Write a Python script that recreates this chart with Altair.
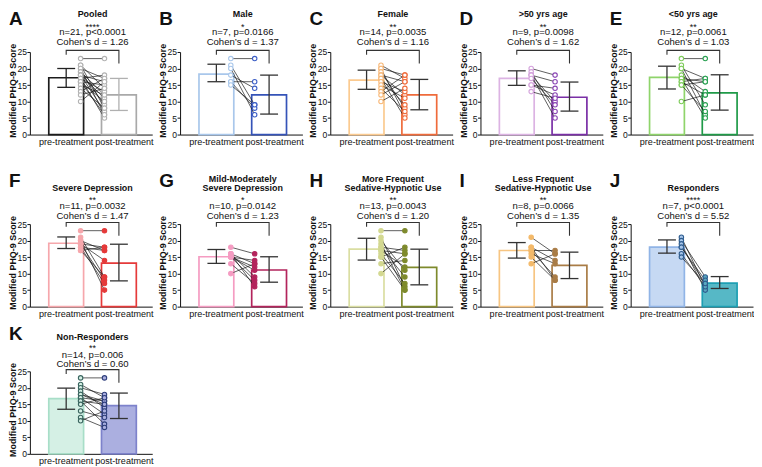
import altair as alt
import pandas as pd

FONT = "Liberation Sans"

# ---------------- data ----------------
letters = ["A", "B", "C", "D", "E", "F", "G", "H", "I", "J", "K"]
titles = [["Pooled"], ["Male"], ["Female"], [">50 yrs age"], ["<50 yrs age"],
          ["Severe Depression"], ["Mild-Moderately", "Severe Depression"],
          ["More Frequent", "Sedative-Hypnotic Use"],
          ["Less Frequent", "Sedative-Hypnotic Use"],
          ["Responders"], ["Non-Responders"]]
stars = ["****", "*", "**", "**", "**", "**", "*", "**", "**", "****", "**"]
stat_lines = ["n=21, p<0.0001", "n=7, p=0.0166", "n=14, p=0.0035", "n=9, p=0.0098",
              "n=12, p=0.0061", "n=11, p=0.0032", "n=10, p=0.0142", "n=13, p=0.0043",
              "n=8, p=0.0066", "n=7, p<0.0001", "n=14, p=0.006"]
cohen = ["Cohen’s d = 1.26", "Cohen’s d = 1.37", "Cohen’s d = 1.16", "Cohen’s d = 1.62",
         "Cohen’s d = 1.03", "Cohen’s d = 1.47", "Cohen’s d = 1.23", "Cohen’s d = 1.20",
         "Cohen’s d = 1.35", "Cohen’s d = 5.52", "Cohen’s d = 0.60"]
categories = ["pre-treatment", "post-treatment"]

pre_mean = [17.2, 18.3, 16.5, 17.0, 17.3, 19.2, 15.1, 17.4, 17.0, 18.0, 16.7]
pre_lo   = [14.3, 16.0, 13.7, 14.9, 13.8, 17.6, 13.1, 14.1, 14.7, 16.2, 13.5]
pre_hi   = [20.0, 21.3, 19.5, 19.3, 20.7, 21.1, 17.3, 20.7, 19.4, 20.2, 19.9]
post_mean = [12.0, 12.0, 12.0, 11.3, 12.6, 13.2, 11.1, 11.9, 12.5, 7.1, 14.6]
post_lo   = [7.3, 6.2, 7.5, 7.1, 7.4, 7.8, 7.4, 6.6, 8.5, 5.5, 10.7]
post_hi   = [17.0, 18.0, 16.7, 15.9, 18.1, 18.9, 15.1, 17.4, 16.5, 9.1, 18.4]

pre_scores = [
    [23, 21, 21, 20, 20, 19, 19, 18, 18, 18, 17, 17, 17, 16, 16, 16, 15, 14, 13, 12, 10],
    [23, 21, 20, 18, 16, 16, 15],
    [21, 20, 20, 19, 18, 18, 17, 17, 16, 15, 14, 13, 12, 10],
    [20, 19, 18, 18, 18, 17, 15, 15, 13],
    [23, 21, 20, 20, 18, 17, 17, 16, 16, 15, 15, 10],
    [23, 21, 20, 20, 19, 19, 19, 18, 18, 17, 17],
    [18, 16, 16, 16, 15, 15, 15, 15, 13, 10],
    [23, 21, 20, 19, 18, 18, 17, 17, 16, 15, 15, 13, 10],
    [21, 18, 18, 17, 17, 16, 15, 13],
    [21, 20, 19, 18, 18, 16, 15],
    [23, 21, 20, 19, 18, 18, 17, 17, 16, 16, 15, 13, 11, 10],
]
post_scores = [
    [23, 14, 8, 17, 6, 12, 9, 16, 7, 11, 18, 5, 13, 15, 6, 10, 12, 8, 17, 14, 16],
    [23, 9, 6, 14, 16, 8, 9],
    [17, 6, 18, 8, 12, 16, 9, 5, 13, 11, 7, 18, 16, 14],
    [18, 7, 16, 10, 5, 9, 14, 12, 11],
    [23, 9, 17, 6, 13, 16, 5, 12, 17, 7, 16, 12],
    [23, 9, 17, 5, 18, 14, 8, 7, 17, 18, 9],
    [16, 6, 13, 9, 12, 8, 14, 11, 7, 13],
    [23, 6, 11, 5, 17, 9, 16, 12, 7, 18, 5, 14, 16],
    [16, 8, 14, 9, 17, 13, 8, 16],
    [6, 9, 5, 8, 7, 6, 7],
    [23, 17, 18, 14, 16, 15, 12, 16, 9, 15, 17, 11, 8, 13],
]

# ---------------- styles ----------------
styles = [
    dict(fill=["white", "white"], stroke=["#1c1c1c", "#a9a9a9"], pfill=["white", "white"],
         pstroke=["#b3b3b3", "#b3b3b3"], err=["#222222", "#b0b0b0"]),
    dict(fill=["white", "white"], stroke=["#a9c7eb", "#3553b8"], pfill=["white", "white"],
         pstroke=["#a9c7eb", "#3d5fc6"], err=["#333333", "#333333"]),
    dict(fill=["white", "white"], stroke=["#fbca90", "#ef6b3b"], pfill=["white", "white"],
         pstroke=["#f8b878", "#ef6b3b"], err=["#333333", "#333333"]),
    dict(fill=["white", "white"], stroke=["#dcb3e3", "#7a2fa6"], pfill=["white", "white"],
         pstroke=["#d4a3dc", "#8a45b4"], err=["#333333", "#333333"]),
    dict(fill=["white", "white"], stroke=["#8fd46b", "#1f9a48"], pfill=["white", "white"],
         pstroke=["#7fcc5c", "#2aa052"], err=["#333333", "#333333"]),
    dict(fill=["white", "white"], stroke=["#f6a7ac", "#e53a3a"], pfill=["#f6a7ac", "#e53a3a"],
         pstroke=["#f6a7ac", "#e53a3a"], err=["#333333", "#333333"]),
    dict(fill=["white", "white"], stroke=["#f59cc2", "#b3245c"], pfill=["#f59cc2", "#b3245c"],
         pstroke=["#f59cc2", "#b3245c"], err=["#333333", "#333333"]),
    dict(fill=["white", "white"], stroke=["#dadea2", "#7e8a2c"], pfill=["#d3d890", "#7e8a2c"],
         pstroke=["#d3d890", "#7e8a2c"], err=["#333333", "#333333"]),
    dict(fill=["white", "white"], stroke=["#f7c582", "#a97c46"], pfill=["#f3b96a", "#a97c46"],
         pstroke=["#f3b96a", "#a97c46"], err=["#333333", "#333333"]),
    dict(fill=["#c6d9f3", "#56b8c6"], stroke=["#90b4e6", "#1e9fb3"], pfill=["#a9c7eb", "#5aa9c0"],
         pstroke=["#2f5d8f", "#2f5d8f"], err=["#333333", "#333333"]),
    dict(fill=["#d5f0e5", "#abafe0"], stroke=["#a8dec8", "#7d82cb"], pfill=["#d5f0e5", "#abafe0"],
         pstroke=["#3b6660", "#2f3f7c"], err=["#333333", "#333333"]),
]

# ---------------- layout constants ----------------
W, H = 123, 83
BAR_X = [(19, 54), (72, 107)]
CENTER = [36.5, 89.5]
PT_X = [51, 75]
CAP = 9
LABEL_X = [36, 94.5]
TXT_X = 63

ROW_OFF = [
    dict(letter=-27.5, t2=-47, t1=-38, star=-25.5, n=-20.5, c=-10.5),
    dict(letter=-37, t2=-45, t1=-36, star=-24.5, n=-18, c=-8.5),
    dict(letter=-31, t2=-43, t1=-34, star=-23.5, n=-16.5, c=-7),
]

XAXIS = alt.Axis(values=LABEL_X,
                 labelExpr="datum.value < 60 ? 'pre-treatment' : 'post-treatment'",
                 ticks=False, tickSize=0, grid=False, title=None, labelFontSize=9.1,
                 labelPadding=3, labelFlush=False, labelOverlap=False, labelFont=FONT,
                 labelColor="#111", domainColor="#111", domainWidth=1)
YAXIS = alt.Axis(values=[0, 5, 10, 15, 20, 25], grid=False, tickSize=3, tickColor="#111",
                 domainColor="#111", labelFontSize=8.6, labelPadding=0.5, labelFont=FONT,
                 labelColor="#111", title="Modified PHQ-9 Score", titleFont=FONT,
                 titleFontSize=9, titleFontWeight="bold", titleX=-12.5, titleY=H / 2 - 3,
                 titleColor="#111")


def text_layer(txt, px, py, **kw):
    d = pd.DataFrame({"t": [txt]})
    return alt.Chart(d).mark_text(font=FONT, color="#111", **kw).encode(
        x=alt.value(px), y=alt.value(py), text="t:N")


def X(field, xs):
    return alt.X(field, scale=xs, axis=XAXIS)


def Y(field, ys):
    return alt.Y(field, scale=ys, axis=YAXIS)


def panel(i, row):
    st = styles[i]
    off = ROW_OFF[row]
    xs = alt.Scale(domain=[0, W])
    ys = alt.Scale(domain=[0, 25])
    means = [pre_mean[i], post_mean[i]]
    los = [pre_lo[i], post_lo[i]]
    his = [pre_hi[i], post_hi[i]]
    layers = []

    # bars
    for k in range(2):
        d = pd.DataFrame({"phase": [categories[k]], "x0": [BAR_X[k][0]], "x1": [BAR_X[k][1]],
                          "mean": [means[k]], "zero": [0]})
        layers.append(alt.Chart(d).mark_rect(fill=st["fill"][k], stroke=st["stroke"][k],
                                             strokeWidth=1.7).encode(
            x=X("x0:Q", xs), x2="x1:Q", y=Y("mean:Q", ys), y2="zero:Q"))

    # pairing lines
    pts = []
    for s, (a, b) in enumerate(zip(pre_scores[i], post_scores[i])):
        pts.append({"subj": s, "phase": 0, "x": PT_X[0], "score": a})
        pts.append({"subj": s, "phase": 1, "x": PT_X[1], "score": b})
    pdf = pd.DataFrame(pts)
    layers.append(alt.Chart(pdf).mark_line(color="#1a1a1a", strokeWidth=0.7).encode(
        x=X("x:Q", xs), y=Y("score:Q", ys), detail="subj:N"))

    # error bars
    for k in range(2):
        c = CENTER[k]
        d = pd.DataFrame({"c": [c], "lo": [los[k]], "hi": [his[k]]})
        layers.append(alt.Chart(d).mark_rule(color=st["err"][k], strokeWidth=1.3).encode(
            x=X("c:Q", xs), y=Y("lo:Q", ys), y2="hi:Q"))
        dc = pd.DataFrame({"a": [c - CAP, c - CAP], "b": [c + CAP, c + CAP], "v": [los[k], his[k]]})
        layers.append(alt.Chart(dc).mark_rule(color=st["err"][k], strokeWidth=1.3).encode(
            x=X("a:Q", xs), x2="b:Q", y=Y("v:Q", ys)))

    # points
    for k in range(2):
        d = pdf[pdf.phase == k]
        layers.append(alt.Chart(d).mark_point(shape="circle", size=20, strokeWidth=1.1,
                                              fill=st["pfill"][k], stroke=st["pstroke"][k],
                                              fillOpacity=1, opacity=1).encode(
            x=X("x:Q", xs), y=Y("score:Q", ys)))

    # significance bracket
    bdf = pd.DataFrame({"o": [0, 1, 2, 3], "bx": [CENTER[0], CENTER[0], CENTER[1], CENTER[1]],
                        "by": [24.2, 25.5, 25.5, 21.5]})
    layers.append(alt.Chart(bdf).mark_line(color="#333333", strokeWidth=1.1).encode(
        x=X("bx:Q", xs), y=Y("by:Q", ys), order="o:Q"))

    # texts
    tl = titles[i]
    if len(tl) == 1:
        layers.append(text_layer(tl[0], TXT_X, off["t1"], fontSize=9, fontWeight="bold",
                                 baseline="middle"))
    else:
        layers.append(text_layer(tl[0], TXT_X, off["t2"], fontSize=9, fontWeight="bold",
                                 baseline="middle"))
        layers.append(text_layer(tl[1], TXT_X, off["t1"], fontSize=9, fontWeight="bold",
                                 baseline="middle"))
    layers.append(text_layer(stars[i], TXT_X, off["star"], fontSize=9, baseline="middle"))
    layers.append(text_layer(stat_lines[i], TXT_X, off["n"], fontSize=9.6, baseline="middle"))
    layers.append(text_layer(cohen[i], TXT_X, off["c"], fontSize=9.6, baseline="middle"))
    layers.append(text_layer(letters[i], -21, off["letter"], fontSize=19, fontWeight="bold",
                             align="left", baseline="alphabetic"))

    return alt.layer(*layers).properties(width=W, height=H)


row1 = alt.hconcat(*[panel(i, 0) for i in range(0, 5)], spacing=28, bounds="flush")
row2 = alt.hconcat(*[panel(i, 1) for i in range(5, 10)], spacing=28, bounds="flush")
row3 = panel(10, 2)

chart = alt.vconcat(row1, alt.vconcat(row2, row3, spacing=6), spacing=25).properties(
    padding={"left": 0, "top": 0, "right": 0, "bottom": 0},
    background="white",
).configure_view(stroke=None)

chart.save("out.html", embed_options={"renderer": "svg", "actions": False})
